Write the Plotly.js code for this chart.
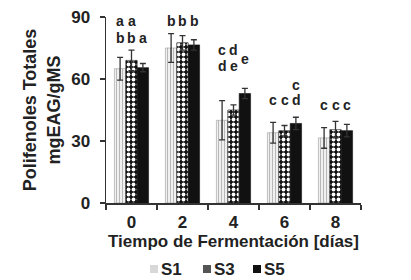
<!DOCTYPE html>
<html><head><meta charset="utf-8">
<script src="https://cdn.plot.ly/plotly-3.0.1.min.js"></script>
<style>html,body{margin:0;padding:0;background:#fff;}#chart{width:411px;height:280px;}</style>
</head><body><div id="chart"></div>
<script>
// Categories (fermentation days)
var days = ["0", "2", "4", "6", "8"];
// Series names
var seriesNames = ["S1", "S3", "S5"];
// Series values (mgEAG/gMS)
var s1 = [65, 75, 40, 34, 31.5];
var s3 = [69, 77.5, 45, 35, 35.5];
var s5 = [65.5, 76.5, 53, 38.5, 35];
// Error bars
var e1 = [5.5, 7, 9.5, 5, 5];
var e3 = [5, 3.5, 2.5, 2.5, 4];
var e5 = [2, 2.5, 2.5, 3, 3];
// Significance letters: day, series index (0=S1,1=S3,2=S5), letter, height in data units
var letterDay    = ["0","0","0","0","0","2","2","2","4","4","4","4","4","6","6","6","6","8","8","8"];
var letterSeries = [0,1,0,1,2,0,1,2,0,1,0,1,2,0,1,2,2,0,1,2];
var letterText   = ["a","a","b","b","a","b","b","b","c","d","d","e","e","c","c","d","c","c","c","c"];
var letterY      = [88,88,80,80,80,88,88,88,74,74,66.5,66.5,69.5,49.8,49.8,49.8,57,47.3,47.3,47.3];

var font = "Arial, 'Liberation Sans', sans-serif";
var errStyle = function(arr){return {type:'data', array:arr, visible:true, color:'#333', thickness:1.3, width:3};};

var traces = [
  {type:'bar', name:seriesNames[0], x:days, y:s1, error_y:errStyle(e1),
   marker:{color:'#f2f2f2', line:{color:'#9a9a9a', width:0.6},
     pattern:{shape:'|', fgcolor:'#b8b8b8', bgcolor:'#f7f7f7', size:3, solidity:0.4}}},
  {type:'bar', name:seriesNames[1], x:days, y:s3, error_y:errStyle(e3),
   marker:{color:'#111', line:{color:'#111', width:0.6},
     pattern:{shape:'.', fgcolor:'#ffffff', bgcolor:'#111111', size:5, solidity:0.45}}},
  {type:'bar', name:seriesNames[2], x:days, y:s5, error_y:errStyle(e5),
   marker:{color:'#111', line:{color:'#111', width:0.6}}}
];

var offs = [-11.5, 0, 11.5];
var anns = [];
for (var i = 0; i < letterText.length; i++) {
  anns.push({xref:'x', yref:'y', x:days.indexOf(letterDay[i]), y:letterY[i], text:letterText[i],
    xshift:offs[letterSeries[i]], showarrow:false,
    font:{family:font, size:14, color:'#222', weight:'bold'}});
}

// Custom compact legend (paper coords: plot spans x 106..361 px, y 17..203 px)
function px2x(p){return (p-106)/255;}
function px2y(p){return (203-p)/186;}
var legSymX = [150, 203, 253];
var legFill = ['#d8d8d8', '#555555', '#111111'];
var shapes = [];
for (var k = 0; k < 3; k++) {
  shapes.push({type:'rect', xref:'paper', yref:'paper', x0:px2x(legSymX[k]), x1:px2x(legSymX[k]+8),
    y0:px2y(273), y1:px2y(265), fillcolor:legFill[k], line:{width:0}});
  anns.push({xref:'paper', yref:'paper', x:px2x(legSymX[k]+9), y:px2y(269), xanchor:'left', yanchor:'middle',
    text:seriesNames[k], showarrow:false, font:{family:font, size:17, color:'#222', weight:'bold'}});
}

var layout = {
  width:411, height:280,
  margin:{l:106, r:50, t:17, b:77},
  paper_bgcolor:'#fff', plot_bgcolor:'#fff',
  barmode:'group', bargap:0.33, bargroupgap:0,
  showlegend:false,
  xaxis:{type:'category', range:[-0.5,4.5], autorange:false, tickson:'boundaries', ticks:'outside', ticklen:5, tickwidth:1.5, tickcolor:'#333',
    showline:true, linecolor:'#333', linewidth:1.5, showgrid:false, zeroline:false, automargin:false, ticklabelstandoff:3,
    tickfont:{family:font, size:17, color:'#222', weight:'bold'},
    title:{text:'Tiempo de Fermentación [días]', standoff:3, font:{family:font, size:17, color:'#222', weight:'bold'}}},
  yaxis:{range:[0,90], autorange:false, tickvals:[0,30,60,90], ticks:'outside', ticklen:5, tickwidth:1.5, tickcolor:'#333',
    showline:true, linecolor:'#333', linewidth:1.5, showgrid:false, zeroline:false, automargin:false, ticklabelstandoff:6,
    tickfont:{family:font, size:17, color:'#222', weight:'bold'},
    title:{text:'Polifenoles Totales<br>mgEAG/gMS', standoff:6, font:{family:font, size:18, color:'#222', weight:'bold'}}},
  annotations:anns,
  shapes:shapes
};
Plotly.newPlot('chart', traces, layout, {displayModeBar:false, staticPlot:true});
</script></body></html>
